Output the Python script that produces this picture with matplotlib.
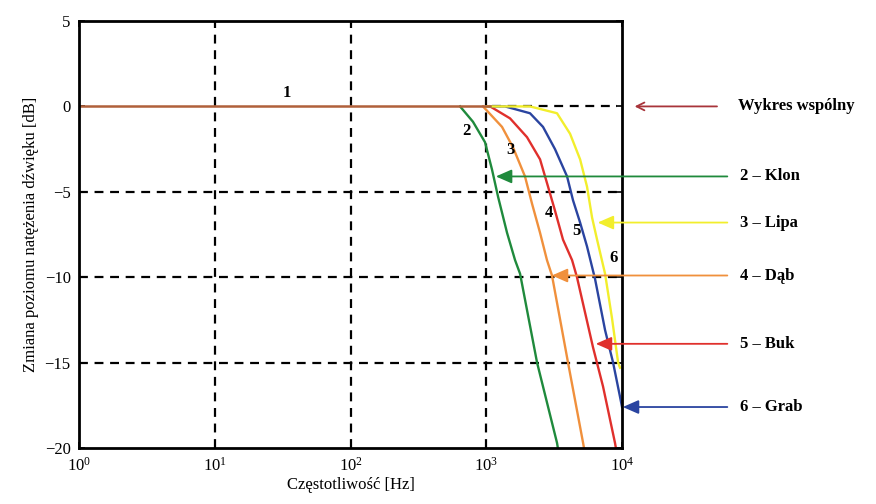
import numpy as np
import matplotlib
matplotlib.use('Agg')
import matplotlib.pyplot as plt

plt.rcParams['font.family'] = ['Liberation Serif', 'DejaVu Serif']
plt.rcParams['mathtext.fontset'] = 'custom'
plt.rcParams['mathtext.rm'] = 'Liberation Serif'

# curves: frequency [Hz], level change [dB]
common_f = [1, 1070]
common_db = [0, 0]

klon_f = [641, 798, 979, 1102, 1222, 1422, 1629, 1774, 2366, 3319, 3400]
klon_db = [0, -0.9, -2.1, -3.7, -5.3, -7.4, -9.0, -9.8, -15.0, -19.7, -20.2]

dab_f = [946, 1306, 1574, 1928, 2173, 2489, 2799, 3048, 4000, 5164, 5300]
dab_db = [0, -1.2, -2.4, -4.1, -5.7, -7.4, -9.0, -9.9, -15.0, -19.7, -20.2]

buk_f = [1067, 1496, 1995, 2489, 2851, 3206, 3673, 4285, 4656, 6109, 7244, 8872, 9100]
buk_db = [0, -0.7, -1.8, -3.1, -4.7, -6.1, -7.8, -9.0, -10.0, -14.1, -16.4, -19.7, -20.2]

grab_f = [1000, 1374, 2099, 2618, 3206, 3936, 4355, 4909, 5521, 6324, 7499, 8590, 9660, 10000]
grab_db = [0, 0, -0.4, -1.2, -2.5, -4.1, -5.5, -6.8, -8.2, -10.1, -13.1, -15.0, -17.0, -17.6]

lipa_f = [1000, 2099, 3319, 4140, 4909, 5521, 6012, 6546, 7499, 8433, 9354, 9660]
lipa_db = [0, 0, -0.4, -1.6, -3.1, -4.7, -6.5, -7.8, -9.8, -12.4, -15.0, -15.3]

# legend arrows: label, colour, arrow head (Hz, dB)
legend_labels = ['2 – Klon', '3 – Lipa', '4 – Dąb', '5 – Buk', '6 – Grab']
legend_colors = ['#1f8a3c', '#f2ee2c', '#f0903c', '#e0302c', '#2a44a0']
legend_head_f = [1122, 6310, 2898, 6109, 9660]
legend_head_db = [-4.1, -6.8, -9.9, -13.9, -17.6]

# curve numbers on the plot
num_labels = ['1', '2', '3', '4', '5', '6']
num_f = [34, 710, 1500, 2900, 4580, 8730]
num_db = [0.8, -1.45, -2.55, -6.25, -7.3, -8.9]

fig = plt.figure(figsize=(8.76, 5.04), dpi=100)
ax = fig.add_axes([0.0902, 0.1111, 0.6199, 0.8472])

# dashed grid, 0 dB line only visible where the common curve ends
for v in [10, 100, 1000]:
    ax.axvline(v, color='black', ls=(0, (4, 3)), lw=1.6, zorder=0)
ax.axhline(0, xmin=0.76, xmax=0.99, color='black', ls=(0, (4, 3)), lw=1.6, zorder=0)
for v in [-5, -10, -15]:
    ax.axhline(v, xmax=0.99, color='black', ls=(0, (4, 3)), lw=1.6, zorder=0)

ax.plot(klon_f, klon_db, color=legend_colors[0], lw=1.7)
ax.plot(dab_f, dab_db, color=legend_colors[2], lw=1.7)
ax.plot(buk_f, buk_db, color=legend_colors[3], lw=1.7)
ax.plot(grab_f, grab_db, color=legend_colors[4], lw=1.7)
ax.plot(lipa_f, lipa_db, color=legend_colors[1], lw=1.7)
ax.plot(common_f, common_db, color='#b0603a', lw=1.8)

ax.set_xscale('log')
ax.set_xlim(1, 10000)
ax.set_ylim(-20, 5)
ax.set_xticks([1, 10, 100, 1000, 10000])
ax.set_yticks([5, 0, -5, -10, -15, -20])
ax.minorticks_off()
ax.tick_params(direction='in', length=4, width=1.2, labelsize=12, right=True, top=True, pad=6)

for s in ax.spines.values():
    s.set_linewidth(2)

ax.set_xlabel('Częstotliwość [Hz]', fontsize=12, labelpad=2)
ax.set_ylabel('Zmiana poziomu natężenia dźwięku [dB]', fontsize=12, labelpad=4)

for lab, f, db in zip(num_labels, num_f, num_db):
    ax.text(f, db, lab, fontsize=12, fontweight='bold', ha='center', va='center')

# common curve arrow
ax.annotate('', xy=(1.018, 0), xycoords=('axes fraction', 'data'),
            xytext=(1.18, 0), textcoords=('axes fraction', 'data'),
            arrowprops=dict(arrowstyle='->', color='#a8343a', lw=1.3, mutation_scale=14),
            annotation_clip=False)
ax.text(1.213, 0, 'Wykres wspólny', transform=ax.get_yaxis_transform(),
        fontsize=12, fontweight='bold', va='center', ha='left')

for lab, col, f, db in zip(legend_labels, legend_colors, legend_head_f, legend_head_db):
    ax.annotate('', xy=(f, db), xycoords='data',
                xytext=(1.199, db), textcoords=('axes fraction', 'data'),
                arrowprops=dict(arrowstyle='-|>,head_length=0.8,head_width=0.35',
                                color=col, lw=1.3, mutation_scale=12),
                annotation_clip=False)
    ax.text(1.217, db, lab, transform=ax.get_yaxis_transform(),
            fontsize=12, fontweight='bold', va='center', ha='left')

fig.savefig('out.png', dpi=100)
